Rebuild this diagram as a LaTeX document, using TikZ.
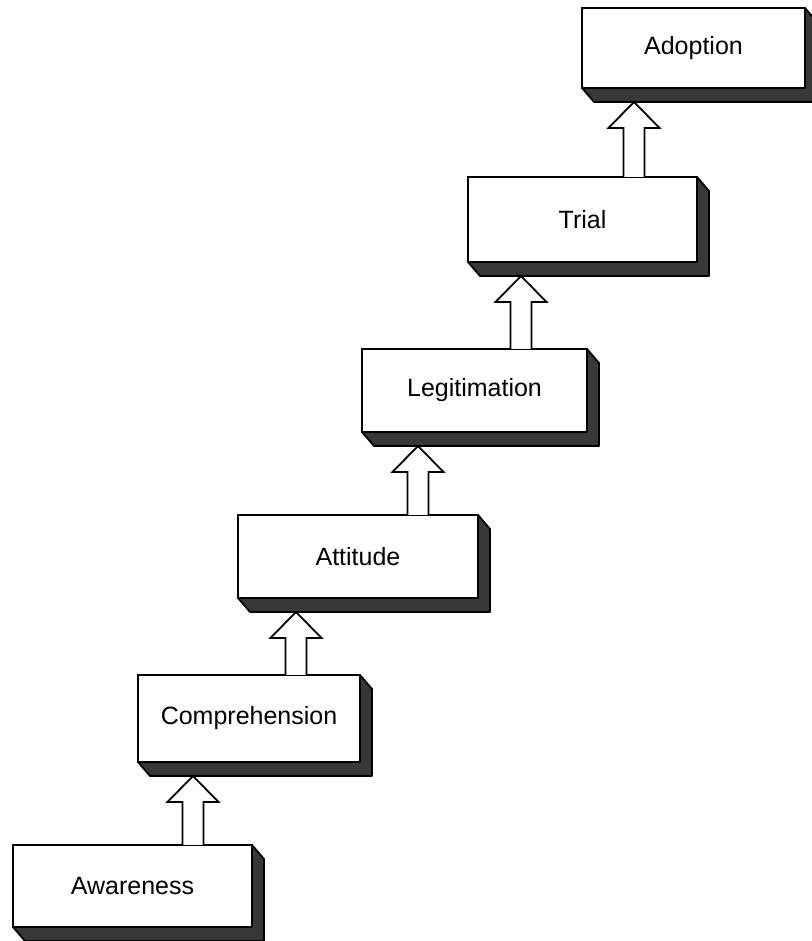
\documentclass[tikz,border=0pt]{standalone}
\usepackage{fontspec}
\setmainfont{Liberation Sans}
\usetikzlibrary{calc}

\tikzset{
  stagebox/.style={draw=black, line width=1.8pt, fill=white, inner sep=0pt,
    outer sep=0pt, anchor=north west, font=\fontsize{25}{30}\selectfont},
  depthface/.style={draw=black, line width=1.8pt, fill=black!78, line join=round},
  hollowarrow/.style={draw=black, line width=1.8pt, fill=white, line join=miter}
}

% extruded lower and right faces of a stage box
\newcommand\boxdepth[1]{%
  \filldraw[depthface] (#1.north east) -- ++(12pt,-14pt)
    -- ($(#1.south east)+(12pt,-14pt)$)
    -- ($(#1.south west)+(12pt,-14pt)$)
    -- (#1.south west) -- (#1.south east) -- cycle;}

% hollow block arrow from the top of #1 up to the underside of #2;
% #3 is the shaft's offset from the left edge of #2
\newcommand\stagearrow[3]{%
  \draw[hollowarrow] let \p1=(#2.south west), \p2=(#1.north) in
    (\x1+#3-10.5pt,\y2) -- (\x1+#3-10.5pt,\y1-40pt)
    -- (\x1+#3-25.5pt,\y1-40pt) -- (\x1+#3,\y1-14pt)
    -- (\x1+#3+25.5pt,\y1-40pt) -- (\x1+#3+10.5pt,\y1-40pt)
    -- (\x1+#3+10.5pt,\y2);}

\begin{document}
\begin{tikzpicture}[x=1pt,y=1pt]
  \useasboundingbox (0,0) rectangle (811,941);

  \node[stagebox, minimum width=239pt, minimum height=82pt] (aware) at (13,96) {Awareness};
  \boxdepth{aware}
  \node[stagebox, minimum width=222pt, minimum height=87pt] (compr) at (138,266) {Comprehension};
  \boxdepth{compr}
  \node[stagebox, minimum width=240pt, minimum height=83pt] (attit) at (238,426) {Attitude};
  \boxdepth{attit}
  \node[stagebox, minimum width=225pt, minimum height=83pt] (legit) at (362,592) {Legitimation};
  \boxdepth{legit}
  \node[stagebox, minimum width=229pt, minimum height=85pt] (trial) at (468,764) {Trial};
  \boxdepth{trial}
  \node[stagebox, minimum width=223pt, minimum height=80pt] (adopt) at (582,933) {Adoption};
  \boxdepth{adopt}

  \stagearrow{aware}{compr}{55pt}
  \stagearrow{compr}{attit}{58pt}
  \stagearrow{attit}{legit}{56pt}
  \stagearrow{legit}{trial}{53pt}
  \stagearrow{trial}{adopt}{52pt}
\end{tikzpicture}
\end{document}
